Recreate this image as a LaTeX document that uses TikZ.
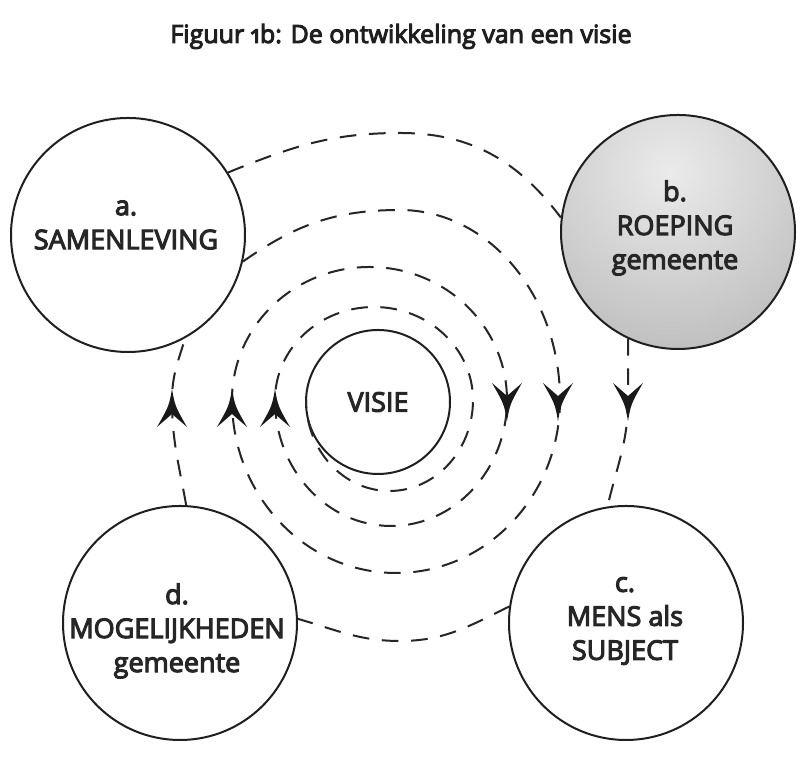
\documentclass[tikz,border=0pt]{standalone}
\usepackage{fontspec}
\setmainfont{Open Sans}
\font\heavylbl="Open Sans:embolden=4" at 20.25pt
\font\heavytitle="Open Sans:embolden=4;+onum" at 18.75pt
\newcommand\lblfontsel{\heavylbl\baselineskip=25.5pt\relax}
\usetikzlibrary{arrows.meta}
\begin{document}
\begin{tikzpicture}[x=0.75pt,y=0.75pt,
  ring/.style={circle, draw=black!88, line width=1.5pt, minimum size=175.5pt, inner sep=0pt},
  smallring/.style={circle, draw=black!88, line width=1.5pt, minimum size=108pt, inner sep=0pt},
  lbl/.style={align=center, font=\lblfontsel, inner sep=0pt, text=black!85},
  dashline/.style={draw=black!85, line width=1.5pt, dash pattern=on 12.5pt off 9.5pt},
  arrowhead/.pic={\fill[black!90] (0,0) .. controls (-3,-17) .. (-15,-38) -- (0,-25) -- (15,-38) .. controls (3,-17) .. (0,0) -- cycle;}
]
\useasboundingbox (0,0) rectangle (804,762);
\fill[white] (0,0) rectangle (804,762);

% title
\node[anchor=base, inner sep=0pt, text=black!88, font=\heavytitle] (title) at (401,719)
  {Figuur 1b: De ontwikkeling van een visie};

% circles
\node[ring] (a) at (128,527) {};
\node[ring, path picture={\shade[inner color=gray!16, outer color=gray!88]
   ([shift={(-8,60)}]path picture bounding box.center) circle (380);}] (b) at (678,530) {};
\node[ring] (c) at (626,139) {};
\node[ring] (d) at (180,139) {};
\node[smallring] (visie) at (378,360) {};

% labels
\node[lbl] (la) at (126,537) {a.\\SAMENLEVING};
\node[lbl] (lb) at (675,534) {b.\\ROEPING\\gemeente};
\node[lbl] (lc) at (625,141) {c.\\MENS als\\SUBJECT};
\node[lbl] (ld) at (177,131) {d.\\MOGELIJKHEDEN\\gemeente};
\node[lbl] (lv) at (visie) {VISIE};

% outer ring a -> b -> c -> d -> a
\draw[dashline] (a.32) to[out=22,in=180] (400,629) to[out=0,in=127] (b.173);
\draw[dashline] (b.245) to[out=-90,in=90] (628,362) to[out=-90,in=77] (c.99);
\draw[dashline] (c.172) to[out=206,in=0] (400,121) to[out=180,in=-16] (d.2);
\draw[dashline] (d.87) to[out=100,in=-90] (172,362) to[out=90,in=-107] (a.-61);

% spiral from a into VISIE
\draw[dashline] (a.-13) to[out=35,in=180] (400,552)
  arc[start angle=90,end angle=0,x radius=160,y radius=190]
  arc[start angle=0,end angle=-180,x radius=164,y radius=173]
  arc[start angle=180,end angle=0,x radius=137.5,y radius=133]
  arc[start angle=0,end angle=-180,x radius=116,y radius=126]
  arc[start angle=180,end angle=0,x radius=99,y radius=93]
  arc[start angle=0,end angle=-180,x radius=83.5,y radius=91];

% arrowheads
\pic at (172,373) {arrowhead};
\pic at (232,373) {arrowhead};
\pic at (275,373) {arrowhead};
\pic[rotate=180] at (507,341) {arrowhead};
\pic[rotate=180] at (558,341) {arrowhead};
\pic[rotate=180] at (628,341) {arrowhead};
\end{tikzpicture}
\end{document}
